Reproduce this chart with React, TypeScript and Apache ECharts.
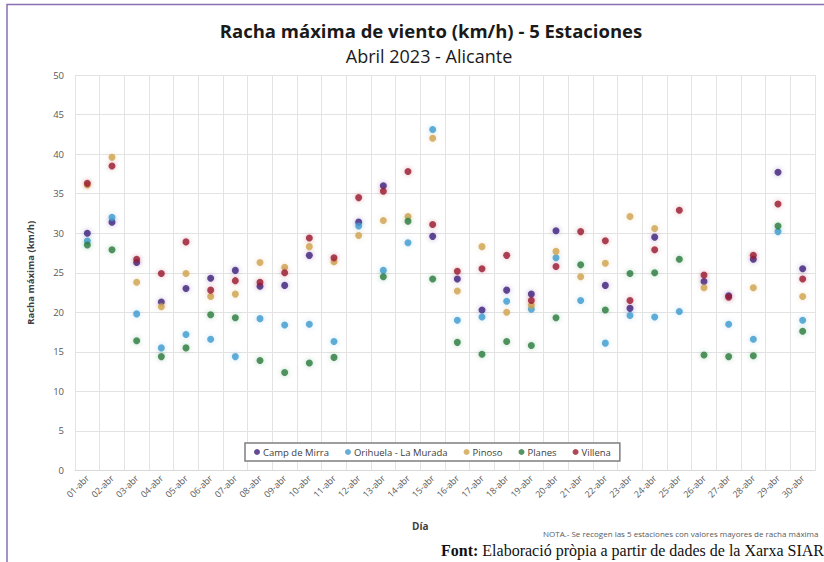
import React, { useEffect, useRef } from "react";
import * as echarts from "echarts";

const days = [
  "01-abr", "02-abr", "03-abr", "04-abr", "05-abr", "06-abr", "07-abr", "08-abr", "09-abr", "10-abr",
  "11-abr", "12-abr", "13-abr", "14-abr", "15-abr", "16-abr", "17-abr", "18-abr", "19-abr", "20-abr",
  "21-abr", "22-abr", "23-abr", "24-abr", "25-abr", "26-abr", "27-abr", "28-abr", "29-abr", "30-abr",
];

const campDeMirra = [30.0, 31.4, 26.3, 21.3, 23.0, 24.3, 25.3, 23.3, 23.4, 27.2, null, 31.4, 36.0, null, 29.6, 24.2, 20.3, 22.8, 22.3, 30.3, null, 23.4, 20.5, 29.5, null, 23.9, 22.1, 26.7, 37.7, 25.5];
const orihuela = [29.0, 32.0, 19.8, 15.5, 17.2, 16.6, 14.4, 19.2, 18.4, 18.5, 16.3, 30.9, 25.3, 28.8, 43.1, 19.0, 19.4, 21.4, 20.4, 26.9, 21.5, 16.1, 19.6, 19.4, 20.1, null, 18.5, 16.6, 30.2, 19.0];
const pinoso = [36.1, 39.6, 23.8, 20.7, 24.9, 22.0, 22.3, 26.3, 25.7, 28.3, 26.4, 29.7, 31.6, 32.1, 42.0, 22.7, 28.3, 20.0, 20.9, 27.7, 24.5, 26.2, 32.1, 30.6, null, 23.1, null, 23.1, null, 22.0];
const planes = [28.5, 27.9, 16.4, 14.4, 15.5, 19.7, 19.3, 13.9, 12.4, 13.6, 14.3, null, 24.5, 31.5, 24.2, 16.2, 14.7, 16.3, 15.8, 19.3, 26.0, 20.3, 24.9, 25.0, 26.7, 14.6, 14.4, 14.5, 30.9, 17.6];
const villena = [36.3, 38.5, 26.7, 24.9, 28.9, 22.8, 24.0, 23.8, 25.0, 29.4, 26.9, 34.5, 35.3, 37.8, 31.1, 25.2, 25.5, 27.2, 21.5, 25.8, 30.2, 29.05, 21.5, 27.9, 32.9, 24.7, 21.9, 27.2, 33.7, 24.2];

const seriesNames = ["Camp de Mirra", "Orihuela - La Murada", "Pinoso", "Planes", "Villena"];
const seriesData = [campDeMirra, orihuela, pinoso, planes, villena];
const colors = ["#3c1f7a", "#3f9bd0", "#cfa24e", "#2c7a3c", "#9a1c2e"];

const FONT = "'Open Sans', 'Noto Sans', sans-serif";

export default function App() {
  const ref = useRef<HTMLDivElement>(null);
  useEffect(() => {
    if (!ref.current) return;
    const chart = echarts.init(ref.current, undefined, { renderer: "svg" });
    chart.setOption({
      animation: false,
      backgroundColor: "#ffffff",
      textStyle: { fontFamily: FONT },
      title: [
        {
          text: "Racha máxima de viento (km/h) - 5 Estaciones",
          left: 426,
          top: 16,
          textAlign: "center",
          textStyle: { fontFamily: FONT, fontSize: 18.5, fontWeight: "bold", color: "#1a1a1a" },
        },
        {
          text: "Abril 2023 - Alicante",
          left: 424,
          top: 42,
          textAlign: "center",
          textStyle: { fontFamily: FONT, fontSize: 18, fontWeight: "normal", color: "#1a1a1a" },
        },
      ],
      grid: { left: 75, right: 9, top: 75, bottom: 91.5, containLabel: false },
      legend: {
        data: seriesNames,
        left: 245,
        top: 443,
        orient: "horizontal",
        icon: "circle",
        itemWidth: 6,
        itemHeight: 6,
        itemGap: 16,
        padding: [4, 9, 4, 9],
        borderColor: "#7f7f7f",
        borderWidth: 1.5,
        backgroundColor: "#ffffff",
        textStyle: { fontFamily: FONT, fontSize: 9.5, color: "#404040", padding: [0, 0, 0, -2] },
      },
      xAxis: {
        type: "category",
        data: days,
        boundaryGap: true,
        axisLine: { show: true, lineStyle: { color: "#d9d9d9" } },
        axisTick: { show: false },
        splitLine: { show: true, lineStyle: { color: "#e3e3e3", width: 1 } },
        axisLabel: { rotate: 45, fontSize: 9, color: "#595959", fontFamily: FONT, margin: 6, interval: 0 },
      },
      yAxis: {
        type: "value",
        min: 0,
        max: 50,
        interval: 5,
        name: "Racha máxima (km/h)",
        nameLocation: "middle",
        nameRotate: 90,
        nameGap: 40,
        nameTextStyle: { fontFamily: FONT, fontSize: 9.5, fontWeight: "bold", color: "#404040" },
        axisLine: { show: false },
        axisTick: { show: false },
        splitLine: { show: true, lineStyle: { color: "#e3e3e3", width: 1 } },
        axisLabel: { fontSize: 9.5, color: "#595959", fontFamily: FONT, margin: 11 },
      },
      series: seriesNames.map((name, i) => ({
        name,
        type: "scatter",
        data: seriesData[i],
        symbol: "circle",
        symbolSize: 7,
        itemStyle: {
          color: colors[i],
          shadowBlur: 5,
          shadowColor: colors[i] + "66",
        },
      })),
      graphic: [
        {
          type: "rect",
          silent: true,
          shape: { x: 7, y: 4.5, width: 900, height: 700 },
          style: { fill: "none", stroke: "#8a6fb5", lineWidth: 1.5 },
        },
        {
          type: "text",
          left: 412,
          top: 521,
          style: { text: "Día", fontFamily: FONT, fontSize: 10, fontWeight: "bold", fill: "#404040" },
        },
        {
          type: "text",
          left: 543,
          top: 529,
          style: {
            text: "NOTA.- Se recogen las 5 estaciones con valores mayores de racha máxima",
            fontFamily: FONT,
            fontSize: 8,
            fill: "#595959",
          },
        },
        {
          type: "text",
          left: 441,
          top: 542,
          style: {
            text: "{b|Font:} Elaboració pròpia a partir de dades de la Xarxa SIAR",
            fontFamily: "'Liberation Serif', 'DejaVu Serif', serif",
            fontSize: 16,
            fill: "#111111",
            rich: {
              b: { fontFamily: "'Liberation Serif', serif", fontSize: 16, fontWeight: "bold", fill: "#111111" },
            },
          },
        },
      ],
    });
    return () => chart.dispose();
  }, []);
  return (
    <div
      ref={ref}
      style={{ position: "fixed", left: 0, top: 0, width: 824, height: 562 }}
    />
  );
}
